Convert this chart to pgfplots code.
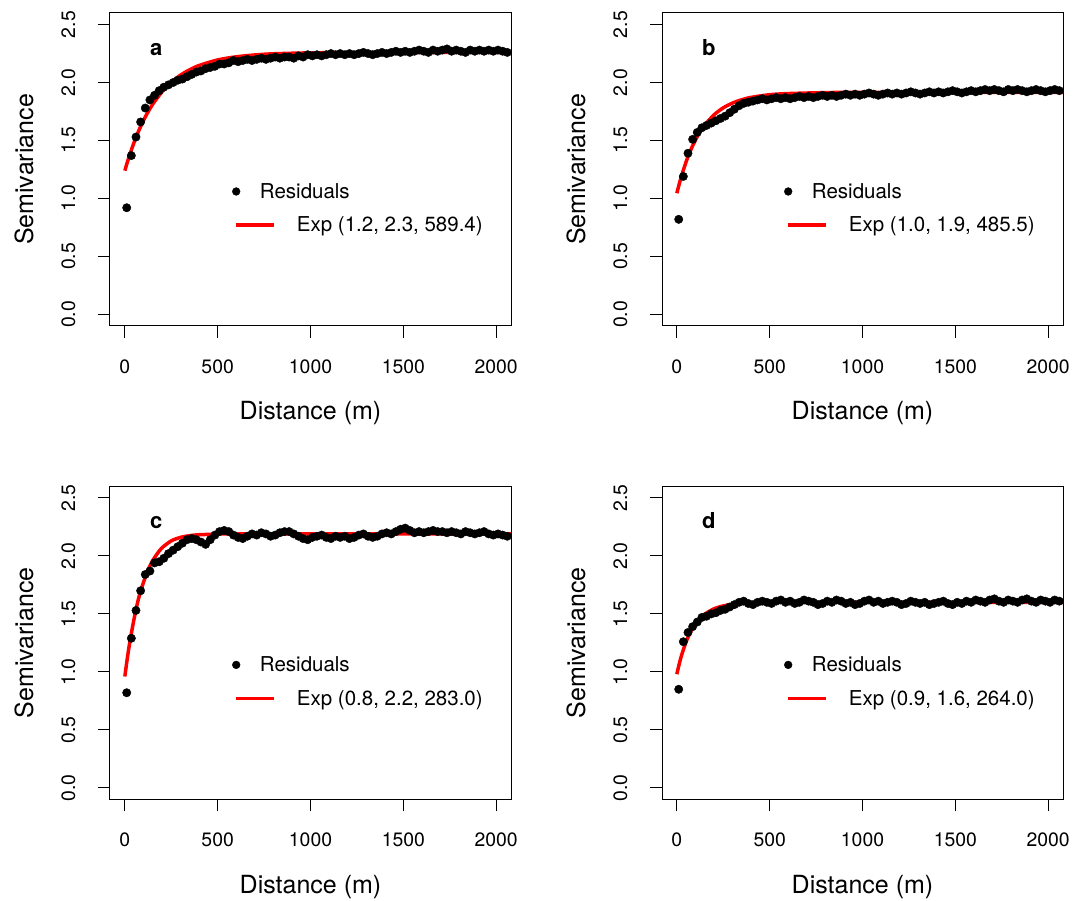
\documentclass[border=0pt]{standalone}
\usepackage{fontspec}
\setmainfont{TeX Gyre Heros}
\usepackage{pgfplots}
\pgfplotsset{compat=1.18}

\pgfplotsset{
  semiv/.style={
    scale only axis, width=401pt, height=313pt,
    xmin=-80, xmax=2080, ymin=-0.1, ymax=2.6,
    xtick={0,500,1000,1500,2000}, ytick={0,0.5,1,1.5,2,2.5},
    tick align=outside, tick pos=left, major tick length=12pt,
    axis line style={line width=1pt},
    every tick/.style={black, line width=1pt},
    scaled ticks=false,
    /pgf/number format/assume math mode=true,
    xticklabel style={font=\fontsize{19.4}{21}\selectfont, yshift=-18pt, /pgf/number format/set thousands separator={}},
    yticklabel style={font=\fontsize{19.4}{21}\selectfont, xshift=-19pt, rotate=90, anchor=south,
      /pgf/number format/fixed, /pgf/number format/fixed zerofill, /pgf/number format/precision=1},
    xlabel={Distance (m)}, ylabel={Semivariance},
    label style={font=\fontsize{25}{27}\selectfont},
    xlabel style={at={(axis description cs:0.5,-0.3003)}, anchor=base},
    ylabel style={at={(axis description cs:-0.192,0.5)}, anchor=base},
    legend style={draw=none, fill=none, inner sep=0pt, row sep=13pt,
      font=\fontsize{20.5}{22}\selectfont, at={(0.304,0.463)}, anchor=north west},
    legend cell align=left,
    dots/.style={only marks, mark=*, mark size=4.2pt, black,
      legend image code/.code={\path[draw=none,fill=none] (-4pt,0pt) -- (38pt,0pt); \fill[black] (0pt,0pt) circle (3.9pt);}},
    fit/.style={red, line width=3.5pt, smooth, no marks,
      legend image code/.code={\path[draw=none,fill=none] (-4pt,0pt) -- (38pt,0pt); \draw[red, line width=3.5pt] (0pt,0pt) -- (38pt,0pt);}},
  }
}
\newcommand{\plab}[1]{\node[anchor=base west, font=\bfseries\fontsize{22}{24}\selectfont] at (rel axis cs:0.091,0.864) {#1};}

\begin{document}
\begin{tikzpicture}
\path[use as bounding box] (0,0) rectangle (1077pt,901pt);

% ---------- a ----------
\begin{axis}[semiv, at={(110pt,575pt)}, anchor=south west]
\addplot[dots] coordinates {(10,0.92)(35,1.37)(60,1.53)(85,1.66)(110,1.78)(135,1.85)(160,1.89)(185,1.93)(210,1.96)(235,1.98)(260,2.00)(285,2.02)(310,2.03)(335,2.05)(360,2.07)(385,2.09)(410,2.10)(435,2.12)(460,2.13)(485,2.14)(510,2.16)(535,2.16)(560,2.17)(585,2.19)(610,2.18)(635,2.19)(660,2.20)(685,2.19)(710,2.20)(735,2.21)(760,2.20)(785,2.21)(810,2.22)(835,2.21)(860,2.22)(885,2.22)(910,2.21)(935,2.23)(960,2.22)(985,2.24)(1010,2.23)(1035,2.24)(1060,2.23)(1085,2.24)(1110,2.25)(1135,2.24)(1160,2.25)(1185,2.24)(1210,2.25)(1235,2.24)(1260,2.25)(1285,2.26)(1310,2.25)(1335,2.24)(1360,2.25)(1385,2.26)(1410,2.25)(1435,2.26)(1460,2.27)(1485,2.26)(1510,2.27)(1535,2.26)(1560,2.27)(1585,2.28)(1610,2.27)(1635,2.26)(1660,2.28)(1685,2.27)(1710,2.28)(1735,2.29)(1760,2.27)(1785,2.28)(1810,2.27)(1835,2.26)(1860,2.28)(1885,2.27)(1910,2.28)(1935,2.27)(1960,2.28)(1985,2.27)(2010,2.28)(2035,2.27)(2060,2.26)};
\addlegendentry{\hspace*{-18pt}Residuals}
\addplot[fit] coordinates {(0,1.24)(10,1.295)(25,1.371)(50,1.485)(75,1.585)(100,1.672)(125,1.747)(150,1.813)(200,1.920)(250,2.002)(300,2.064)(350,2.111)(400,2.147)(500,2.195)(600,2.222)(700,2.238)(800,2.248)(1000,2.256)(1300,2.259)(1600,2.26)(2080,2.26)};
\addlegendentry{\hspace*{19pt}Exp (1.2, 2.3, 589.4)}
\plab{a}
\end{axis}

% ---------- b ----------
\begin{axis}[semiv, at={(662pt,575pt)}, anchor=south west]
\addplot[dots] coordinates {(10,0.82)(35,1.19)(60,1.39)(85,1.51)(110,1.57)(135,1.61)(160,1.63)(185,1.65)(210,1.67)(235,1.69)(260,1.71)(285,1.74)(310,1.77)(335,1.80)(360,1.82)(385,1.83)(410,1.84)(435,1.85)(460,1.86)(485,1.85)(510,1.86)(535,1.87)(560,1.86)(585,1.87)(610,1.86)(635,1.87)(660,1.88)(685,1.87)(710,1.88)(735,1.87)(760,1.88)(785,1.89)(810,1.88)(835,1.89)(860,1.88)(885,1.89)(910,1.90)(935,1.89)(960,1.90)(985,1.89)(1010,1.90)(1035,1.91)(1060,1.90)(1085,1.89)(1110,1.90)(1135,1.91)(1160,1.90)(1185,1.91)(1210,1.90)(1235,1.91)(1260,1.92)(1285,1.91)(1310,1.90)(1335,1.91)(1360,1.92)(1385,1.91)(1410,1.92)(1435,1.91)(1460,1.92)(1485,1.93)(1510,1.92)(1535,1.91)(1560,1.92)(1585,1.93)(1610,1.92)(1635,1.93)(1660,1.94)(1685,1.93)(1710,1.94)(1735,1.93)(1760,1.92)(1785,1.94)(1810,1.93)(1835,1.94)(1860,1.93)(1885,1.92)(1910,1.93)(1935,1.94)(1960,1.93)(1985,1.92)(2010,1.93)(2035,1.94)(2060,1.93)};
\addlegendentry{\hspace*{-18pt}Residuals}
\addplot[fit] coordinates {(0,1.045)(10,1.108)(25,1.194)(50,1.317)(75,1.419)(100,1.504)(125,1.574)(150,1.633)(200,1.721)(250,1.782)(300,1.823)(350,1.852)(400,1.872)(500,1.895)(600,1.905)(800,1.913)(1000,1.915)(2080,1.915)};
\addlegendentry{\hspace*{19pt}Exp (1.0, 1.9, 485.5)}
\plab{b}
\end{axis}

% ---------- c ----------
\begin{axis}[semiv, at={(110pt,101.6pt)}, anchor=south west]
\addplot[dots] coordinates {(10,0.82)(35,1.29)(60,1.53)(85,1.70)(110,1.84)(135,1.87)(160,1.94)(185,1.95)(210,1.98)(235,2.02)(260,2.05)(285,2.08)(310,2.11)(335,2.14)(360,2.15)(385,2.14)(410,2.12)(435,2.10)(460,2.14)(485,2.18)(510,2.21)(535,2.22)(560,2.21)(585,2.18)(610,2.16)(635,2.15)(660,2.17)(685,2.19)(710,2.18)(735,2.20)(760,2.19)(785,2.17)(810,2.18)(835,2.20)(860,2.21)(885,2.21)(910,2.19)(935,2.17)(960,2.15)(985,2.14)(1010,2.16)(1035,2.17)(1060,2.18)(1085,2.16)(1110,2.15)(1135,2.17)(1160,2.16)(1185,2.17)(1210,2.15)(1235,2.16)(1260,2.18)(1285,2.19)(1310,2.17)(1335,2.16)(1360,2.17)(1385,2.19)(1410,2.20)(1435,2.19)(1460,2.21)(1485,2.23)(1510,2.24)(1535,2.22)(1560,2.20)(1585,2.21)(1610,2.20)(1635,2.21)(1660,2.22)(1685,2.21)(1710,2.21)(1735,2.20)(1760,2.21)(1785,2.20)(1810,2.19)(1835,2.21)(1860,2.20)(1885,2.19)(1910,2.20)(1935,2.21)(1960,2.19)(1985,2.18)(2010,2.19)(2035,2.18)(2060,2.17)};
\addlegendentry{\hspace*{-18pt}Residuals}
\addplot[fit] coordinates {(0,0.96)(10,1.08)(25,1.24)(50,1.46)(75,1.64)(100,1.77)(125,1.88)(150,1.96)(175,2.02)(200,2.07)(250,2.13)(300,2.16)(350,2.175)(400,2.183)(500,2.188)(600,2.19)(2080,2.19)};
\addlegendentry{\hspace*{19pt}Exp (0.8, 2.2, 283.0)}
\plab{c}
\end{axis}

% ---------- d ----------
\begin{axis}[semiv, at={(662pt,101.6pt)}, anchor=south west]
\addplot[dots] coordinates {(10,0.85)(35,1.26)(60,1.34)(85,1.39)(110,1.43)(135,1.47)(160,1.48)(185,1.50)(210,1.51)(235,1.53)(260,1.54)(285,1.56)(310,1.58)(335,1.60)(360,1.61)(385,1.59)(410,1.58)(435,1.60)(460,1.61)(485,1.60)(510,1.59)(535,1.61)(560,1.62)(585,1.60)(610,1.61)(635,1.59)(660,1.60)(685,1.62)(710,1.61)(735,1.60)(760,1.58)(785,1.59)(810,1.61)(835,1.60)(860,1.62)(885,1.61)(910,1.59)(935,1.60)(960,1.58)(985,1.59)(1010,1.61)(1035,1.62)(1060,1.60)(1085,1.61)(1110,1.59)(1135,1.60)(1160,1.61)(1185,1.60)(1210,1.58)(1235,1.59)(1260,1.61)(1285,1.60)(1310,1.59)(1335,1.60)(1360,1.58)(1385,1.59)(1410,1.60)(1435,1.61)(1460,1.59)(1485,1.58)(1510,1.60)(1535,1.59)(1560,1.61)(1585,1.60)(1610,1.62)(1635,1.61)(1660,1.60)(1685,1.62)(1710,1.63)(1735,1.61)(1760,1.60)(1785,1.62)(1810,1.61)(1835,1.60)(1860,1.62)(1885,1.63)(1910,1.61)(1935,1.60)(1960,1.62)(1985,1.61)(2010,1.60)(2035,1.62)(2060,1.61)};
\addlegendentry{\hspace*{-18pt}Residuals}
\addplot[fit] coordinates {(0,0.98)(10,1.05)(25,1.141)(50,1.26)(75,1.348)(100,1.413)(125,1.462)(150,1.498)(200,1.544)(250,1.569)(300,1.583)(400,1.595)(500,1.598)(600,1.60)(2080,1.60)};
\addlegendentry{\hspace*{19pt}Exp (0.9, 1.6, 264.0)}
\plab{d}
\end{axis}
\end{tikzpicture}
\end{document}
